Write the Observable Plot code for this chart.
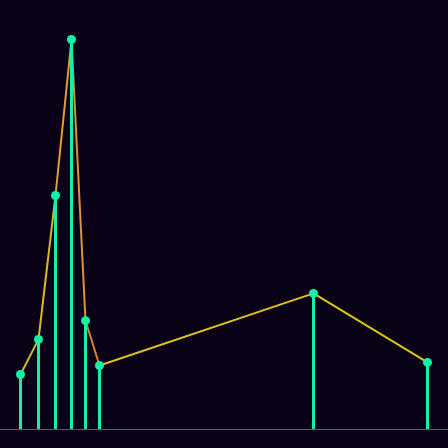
<!DOCTYPE html>
<html>
<head>
<meta charset="utf-8">
<script src="https://cdn.jsdelivr.net/npm/d3@7"></script>
<script src="https://cdn.jsdelivr.net/npm/@observablehq/plot@0.6"></script>
<style>
  html, body { margin: 0; padding: 0; background: #0a0216; }
  #chart svg { display: block; }
</style>
</head>
<body>
<div id="chart"></div>
<script>
// data
const days = [0, 18, 35, 51, 65, 79, 293, 407];
const values = [14.1, 23.1, 60.0, 100.0, 27.9, 16.4, 34.9, 17.2];
const segmentColors = ["#c8c018", "#dcb828", "#e0a030", "#e09038", "#d8803a", "#e0c020", "#d8c818"];

const points = days.map((d, i) => ({day: d, value: values[i]}));
const segments = points.slice(1).map((p, i) => ({
  x1: points[i].day, y1: points[i].value, x2: p.day, y2: p.value, color: segmentColors[i]
}));

const chart = Plot.plot({
  width: 448,
  height: 448,
  marginLeft: 0,
  marginRight: 0,
  marginTop: 0,
  marginBottom: 19,
  style: {background: "#0a0216"},
  x: {domain: [-20, 428], axis: null},
  y: {domain: [0, 110], axis: null},
  marks: [
    Plot.ruleY([0], {stroke: "#1d7a6c", strokeWidth: 1}),
    Plot.link(segments, {x1: "x1", y1: "y1", x2: "x2", y2: "y2", stroke: d => d.color, strokeWidth: 2}),
    Plot.ruleX(points, {x: "day", y1: 0, y2: "value", stroke: "#14f0a8", strokeWidth: 3}),
    Plot.dot(points, {x: "day", y: "value", r: 4.5, fill: "#14f0a8", stroke: "none"})
  ]
});
document.getElementById("chart").appendChild(chart);
</script>
</body>
</html>
